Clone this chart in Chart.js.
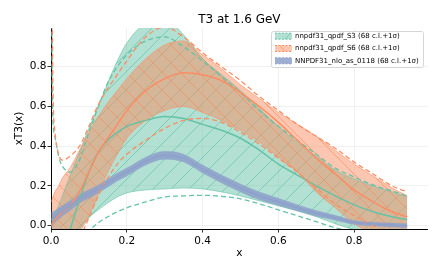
<!DOCTYPE html>
<html>
<head>
<meta charset="utf-8">
<script src="https://cdn.jsdelivr.net/npm/chart.js@4.4.1/dist/chart.umd.min.js"></script>
<style>
  html, body { margin: 0; padding: 0; background: #fff; }
</style>
</head>
<body>
<canvas id="t3Chart" width="443" height="272"></canvas>
<script>
// x grid shared by all three PDF sets
const xGrid = [0.001, 0.004, 0.01, 0.02, 0.03, 0.05, 0.075, 0.1, 0.125, 0.15, 0.175, 0.2, 0.25,
  0.3, 0.35, 0.4, 0.45, 0.5, 0.55, 0.6, 0.65, 0.7, 0.75, 0.8, 0.85, 0.9, 0.94]

// nnpdf31_qpdf_S3
const s3Central = [-0.35, -0.3, -0.25, -0.18, -0.12, -0.02, 0.13, 0.27, 0.37, 0.43, 0.47, 0.5, 0.53,
  0.55, 0.54, 0.51, 0.48, 0.44, 0.38, 0.31, 0.255, 0.2, 0.15, 0.105, 0.07, 0.045, 0.03]
const s3Low68 = [-0.8, -0.6, -0.45, -0.33, -0.25, -0.12, -0.02, 0.04, 0.08, 0.115, 0.145, 0.165, 0.18,
  0.185, 0.19, 0.185, 0.17, 0.15, 0.125, 0.1, 0.075, 0.045, 0.01, -0.02, -0.04, -0.06, -0.07]
const s3High68 = [0.0, 0.03, 0.06, 0.1, 0.15, 0.25, 0.37, 0.49, 0.6, 0.72, 0.83, 0.92, 1.02,
  1.04, 0.96, 0.84, 0.76, 0.68, 0.59, 0.5, 0.42, 0.35, 0.28, 0.235, 0.2, 0.17, 0.145]
const s3LowSd = [-3, -1.5, -1, -0.7, -0.5, -0.3, -0.12, -0.03, 0.015, 0.045, 0.07, 0.09, 0.12,
  0.145, 0.15, 0.153, 0.148, 0.135, 0.11, 0.08, 0.05, 0.02, -0.01, -0.03, -0.05, -0.07, -0.08]
const s3HighSd = [1.5, 0.6, 0.45, 0.35, 0.3, 0.27, 0.33, 0.47, 0.6, 0.72, 0.8, 0.86, 0.93,
  0.95, 0.9, 0.83, 0.75, 0.67, 0.58, 0.5, 0.43, 0.36, 0.29, 0.245, 0.205, 0.175, 0.15]

// nnpdf31_qpdf_S6
const s6Central = [0.0, 0.01, 0.03, 0.05, 0.07, 0.1, 0.17, 0.27, 0.37, 0.44, 0.51, 0.58, 0.68,
  0.74, 0.77, 0.76, 0.73, 0.67, 0.6, 0.52, 0.43, 0.34, 0.26, 0.18, 0.12, 0.07, 0.045]
const s6Low68 = [-0.25, -0.2, -0.16, -0.12, -0.09, -0.06, -0.03, 0.05, 0.16, 0.27, 0.36, 0.44, 0.53,
  0.58, 0.6, 0.57, 0.53, 0.48, 0.42, 0.345, 0.27, 0.17, 0.09, 0.01, -0.04, -0.08, -0.1]
const s6High68 = [0.12, 0.14, 0.17, 0.2, 0.24, 0.29, 0.38, 0.47, 0.55, 0.62, 0.68, 0.74, 0.84,
  0.91, 0.93, 0.86, 0.79, 0.71, 0.64, 0.57, 0.51, 0.45, 0.38, 0.31, 0.25, 0.19, 0.15]
const s6LowSd = [-5, -2, -1, -0.6, -0.4, -0.2, -0.07, 0.04, 0.15, 0.24, 0.31, 0.36, 0.43,
  0.49, 0.53, 0.54, 0.52, 0.47, 0.41, 0.34, 0.27, 0.19, 0.11, 0.05, 0.0, -0.04, -0.06]
const s6HighSd = [3, 0.9, 0.48, 0.36, 0.33, 0.35, 0.4, 0.5, 0.61, 0.69, 0.76, 0.83, 0.95,
  1.0, 0.95, 0.87, 0.8, 0.73, 0.65, 0.58, 0.51, 0.45, 0.39, 0.32, 0.26, 0.2, 0.17]

// NNPDF31_nlo_as_0118
const nnCentral = [0.03, 0.035, 0.045, 0.06, 0.075, 0.1, 0.135, 0.16, 0.185, 0.215, 0.245, 0.27, 0.325,
  0.355, 0.34, 0.285, 0.235, 0.19, 0.15, 0.12, 0.09, 0.062, 0.04, 0.016, 0.008, 0.003, 0.0]
const nnLow68 = [-0.01, 0.0, 0.015, 0.032, 0.049, 0.076, 0.113, 0.139, 0.165, 0.195, 0.225, 0.25, 0.305,
  0.335, 0.32, 0.265, 0.215, 0.17, 0.13, 0.102, 0.074, 0.048, 0.028, 0.006, -0.002, -0.007, -0.01]
const nnHigh68 = [0.07, 0.07, 0.075, 0.088, 0.101, 0.124, 0.157, 0.181, 0.205, 0.235, 0.265, 0.29, 0.345,
  0.375, 0.36, 0.305, 0.255, 0.21, 0.17, 0.138, 0.106, 0.076, 0.052, 0.026, 0.018, 0.013, 0.01]

const xTicks = [0, 0.2, 0.4, 0.6, 0.8]
const yTicks = [0, 0.2, 0.4, 0.6, 0.8]
const legendLabels = ['nnpdf31_qpdf_S3 (68 c.l.+1σ)', 'nnpdf31_qpdf_S6 (68 c.l.+1σ)', 'NNPDF31_nlo_as_0118 (68 c.l.+1σ)']

const green = '102,194,165'
const orange = '252,141,98'
const blue = '141,160,203'

Chart.defaults.font.family = '"DejaVu Sans", sans-serif'
Chart.defaults.color = '#000'

function hatch(rgb, dir, baseAlpha) {
  const size = 18
  const c = document.createElement('canvas')
  c.width = size
  c.height = size
  const g = c.getContext('2d')
  g.fillStyle = 'rgba(' + rgb + ',' + baseAlpha + ')'
  g.fillRect(0, 0, size, size)
  if (dir) {
    g.strokeStyle = 'rgba(' + rgb + ',0.85)'
    g.lineWidth = 0.8
    g.beginPath()
    if (dir === '/') {
      g.moveTo(-2, size + 2); g.lineTo(size + 2, -2)
      g.moveTo(-2, 2); g.lineTo(2, -2)
      g.moveTo(size - 2, size + 2); g.lineTo(size + 2, size - 2)
    } else {
      g.moveTo(-2, -2); g.lineTo(size + 2, size + 2)
      g.moveTo(size - 2, -2); g.lineTo(size + 2, 2)
      g.moveTo(-2, size - 2); g.lineTo(2, size + 2)
    }
    g.stroke()
  }
  return g.createPattern(c, 'repeat')
}

const patterns = [hatch(green, '/', 0.5), hatch(orange, '\\', 0.5), hatch(blue, null, 0.85)]

function points(values) {
  return xGrid.map((x, i) => ({ x: x, y: values[i] }))
}

const datasets = []
function line(values, extra) {
  return Object.assign({
    data: points(values),
    pointRadius: 0,
    fill: false,
    cubicInterpolationMode: 'monotone',
    borderWidth: 1.5
  }, extra)
}

function addPdf(rgb, pattern, central, low, high, lowSd, highSd, order, edgeAlpha) {
  const lowIndex = datasets.length
  datasets.push(line(low, { borderColor: 'rgba(' + rgb + ',' + edgeAlpha + ')', borderWidth: 0.8, order: order }))
  datasets.push(line(high, { borderColor: 'rgba(' + rgb + ',' + edgeAlpha + ')', borderWidth: 0.8, order: order,
    fill: { target: lowIndex }, backgroundColor: pattern }))
  datasets.push(line(central, { borderColor: 'rgb(' + rgb + ')', order: order }))
  if (lowSd) {
    datasets.push(line(lowSd, { borderColor: 'rgb(' + rgb + ')', borderDash: [5, 3], borderWidth: 1.3, order: order }))
    datasets.push(line(highSd, { borderColor: 'rgb(' + rgb + ')', borderDash: [5, 3], borderWidth: 1.3, order: order }))
  }
}

addPdf(green, patterns[0], s3Central, s3Low68, s3High68, s3LowSd, s3HighSd, 3, 0.75)
addPdf(orange, patterns[1], s6Central, s6Low68, s6High68, s6LowSd, s6HighSd, 2, 0.75)
addPdf(blue, patterns[2], nnCentral, nnLow68, nnHigh68, null, null, 1, 0.4)

const decor = {
  id: 'decor',
  afterDraw(chart) {
    const ctx = chart.ctx
    const area = chart.chartArea
    ctx.save()
    ctx.fillStyle = '#000'
    ctx.font = '12px "DejaVu Sans"'
    ctx.textAlign = 'center'
    ctx.textBaseline = 'alphabetic'
    ctx.fillText('T3 at 1.6 GeV', (area.left + area.right) / 2, 22.5)

    // legend box
    const bx = 271.5, by = 31.5, bw = 152, bh = 36
    ctx.fillStyle = 'rgba(255,255,255,0.85)'
    ctx.strokeStyle = '#d6d6d6'
    ctx.lineWidth = 1
    ctx.beginPath()
    ctx.roundRect(bx, by, bw, bh, 2)
    ctx.fill()
    ctx.stroke()
    const colors = [green, orange, blue]
    ctx.font = '7px "DejaVu Sans"'
    ctx.textAlign = 'left'
    ctx.textBaseline = 'middle'
    legendLabels.forEach((label, i) => {
      const cy = 36.2 + i * 12.3
      ctx.fillStyle = '#fff'
      ctx.fillRect(275, cy - 3, 17, 6)
      ctx.fillStyle = patterns[i]
      ctx.fillRect(275, cy - 3, 17, 6)
      ctx.strokeStyle = 'rgb(' + colors[i] + ')'
      ctx.lineWidth = 1
      ctx.setLineDash([2, 1.5])
      ctx.beginPath()
      ctx.moveTo(275, cy - 3); ctx.lineTo(292, cy - 3)
      ctx.moveTo(275, cy + 3); ctx.lineTo(292, cy + 3)
      ctx.stroke()
      ctx.setLineDash([])
      ctx.fillStyle = '#000'
      ctx.fillText(label, 295, cy)
    })
    ctx.restore()
  }
}

const gridStyle = { color: '#ececec', lineWidth: 0.8, tickColor: '#000', tickLength: 3.5, drawTicks: true }

new Chart(document.getElementById('t3Chart'), {
  type: 'line',
  data: { datasets: datasets },
  options: {
    responsive: false,
    devicePixelRatio: 1,
    animation: false,
    layout: { padding: { top: 28, right: 15.3, bottom: 0, left: 0 } },
    plugins: {
      legend: { display: false },
      tooltip: { enabled: false },
      filler: { drawTime: 'beforeDatasetsDraw' }
    },
    scales: {
      x: {
        type: 'linear', min: 0, max: 0.994,
        afterBuildTicks: s => { s.ticks = xTicks.map(v => ({ value: v })) },
        afterFit: s => { s.height = 43 },
        ticks: { font: { size: 10.5 }, color: '#000', padding: 2, maxRotation: 0, callback: v => v.toFixed(1) },
        grid: gridStyle,
        border: { color: '#000', width: 1 },
        title: { display: true, text: 'x', font: { size: 10.5 }, color: '#000', padding: { top: 0, bottom: 12 } }
      },
      y: {
        type: 'linear', min: -0.0166, max: 0.995,
        afterBuildTicks: s => { s.ticks = yTicks.map(v => ({ value: v })) },
        afterFit: s => { s.width = 51 },
        ticks: { font: { size: 10.5 }, color: '#000', padding: 1, callback: v => v.toFixed(1) },
        grid: gridStyle,
        border: { color: '#000', width: 1 },
        title: { display: true, text: 'xT3(x)', font: { size: 10.5 }, color: '#000', padding: { top: 13, bottom: 0 } }
      }
    }
  },
  plugins: [decor]
})
</script>
</body>
</html>
